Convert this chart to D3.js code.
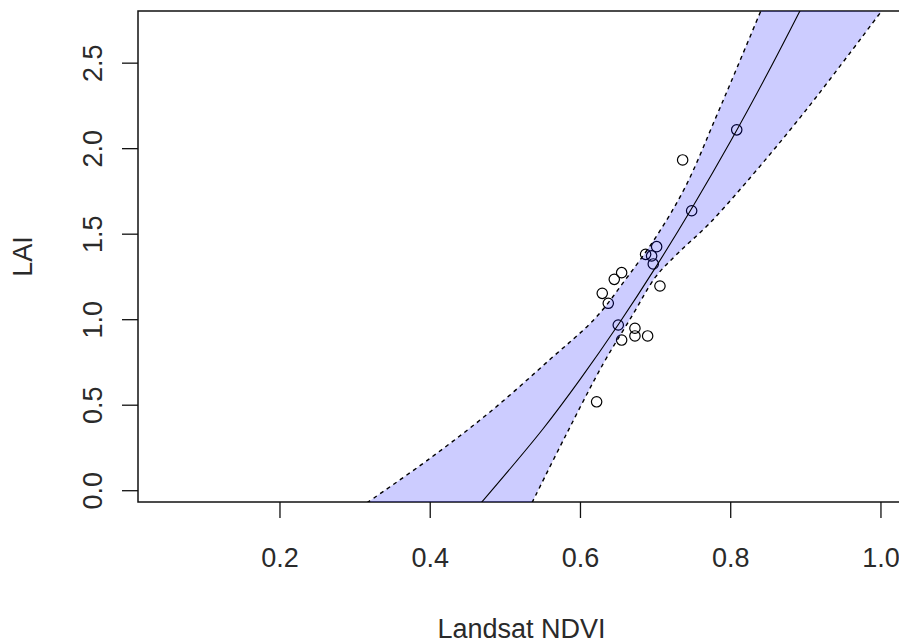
<!DOCTYPE html>
<html>
<head>
<meta charset="utf-8">
<script src="https://cdn.jsdelivr.net/npm/d3@7"></script>
<style>
  body { margin: 0; background: #fff; }
  svg { display: block; }
  text { font-family: "Liberation Sans", Arial, sans-serif; fill: #2a2a2a; }
</style>
</head>
<body>
<svg id="chart" width="899" height="643"></svg>
<script>
// ---- data ----
const ndvi = [0.808, 0.736, 0.748, 0.7014, 0.6867, 0.6947, 0.6969, 0.6548, 0.645,
              0.7058, 0.629, 0.637, 0.6503, 0.6725, 0.6894, 0.6725, 0.6548, 0.6215];
const lai  = [2.110, 1.934, 1.637, 1.427, 1.382, 1.373, 1.326, 1.275, 1.236,
              1.197, 1.154, 1.096, 0.969, 0.950, 0.905, 0.905, 0.881, 0.520];

// fitted line
const fitX = [0.465, 0.55, 0.60, 0.65, 0.70, 0.75, 0.80, 0.85, 0.895];
const fitY = [-0.085, 0.361, 0.654, 0.969, 1.306, 1.665, 2.045, 2.448, 2.83];

// upper confidence limit (left dashed line)
const upX = [0.316, 0.40, 0.48, 0.56, 0.62, 0.66, 0.70, 0.74, 0.78, 0.81, 0.841];
const upY = [-0.07, 0.19, 0.462, 0.77, 1.01, 1.235, 1.48, 1.78, 2.18, 2.49, 2.815];

// lower confidence limit (right dashed line)
const loX = [0.5355, 0.58, 0.63, 0.67, 0.70, 0.73, 0.77, 0.82, 0.90, 1.0];
const loY = [-0.07, 0.32, 0.74, 1.032, 1.25, 1.39, 1.555, 1.80, 2.224, 2.80];

const xTicks = [0.2, 0.4, 0.6, 0.8, 1.0];
const yTicks = [0.0, 0.5, 1.0, 1.5, 2.0, 2.5];
const xDomain = [0.011, 1.032];
const yDomain = [-0.066, 2.805];
const xTitle = "Landsat NDVI";
const yTitle = "LAI";

// ---- layout ----
const L = 138, R = 905, T = 11, B = 502;
const svg = d3.select("#chart");
const x = d3.scaleLinear().domain(xDomain).range([L, R]);
const y = d3.scaleLinear().domain(yDomain).range([B, T]);

svg.append("defs").append("clipPath").attr("id", "plotclip")
  .append("rect").attr("x", L).attr("y", T).attr("width", R - L).attr("height", B - T);

// points
svg.append("g").selectAll("circle")
  .data(ndvi.map((v, i) => [v, lai[i]]))
  .join("circle")
  .attr("cx", d => x(d[0])).attr("cy", d => y(d[1]))
  .attr("r", 5.2)
  .attr("fill", "none").attr("stroke", "#000").attr("stroke-width", 1.2);

// box
svg.append("rect").attr("x", L).attr("y", T).attr("width", R - L).attr("height", B - T)
  .attr("fill", "none").attr("stroke", "#111").attr("stroke-width", 1.5);

// confidence band
const upPts = upX.map((v, i) => [x(v), y(upY[i])]);
const loPts = loX.map((v, i) => [x(v), y(loY[i])]);
const lineGen = d3.line().curve(d3.curveCatmullRom.alpha(0.5));
const bandPath = lineGen(upPts) + "L" + lineGen(loPts.slice().reverse()).slice(1) + "Z";

const plot = svg.append("g").attr("clip-path", "url(#plotclip)");
plot.append("path").attr("d", bandPath).attr("fill", "rgba(0,0,255,0.2)").attr("stroke", "none");

plot.append("path").attr("d", lineGen(upPts)).attr("fill", "none")
  .attr("stroke", "#000").attr("stroke-width", 1.4).attr("stroke-dasharray", "4,4");
plot.append("path").attr("d", lineGen(loPts)).attr("fill", "none")
  .attr("stroke", "#000").attr("stroke-width", 1.4).attr("stroke-dasharray", "4,4");
plot.append("path").attr("d", lineGen(fitX.map((v, i) => [x(v), y(fitY[i])])))
  .attr("fill", "none").attr("stroke", "#000").attr("stroke-width", 1.1);

// x axis ticks
const xa = svg.append("g");
xa.selectAll("line").data(xTicks).join("line")
  .attr("x1", d => x(d)).attr("x2", d => x(d)).attr("y1", B).attr("y2", B + 16)
  .attr("stroke", "#111").attr("stroke-width", 1.3);
xa.selectAll("text").data(xTicks).join("text")
  .attr("x", d => x(d)).attr("y", 567)
  .attr("text-anchor", "middle").attr("font-size", 27)
  .text(d => d3.format(".1f")(d));

// y axis ticks
const ya = svg.append("g");
ya.selectAll("line").data(yTicks).join("line")
  .attr("x1", L).attr("x2", L - 16).attr("y1", d => y(d)).attr("y2", d => y(d))
  .attr("stroke", "#111").attr("stroke-width", 1.3);
ya.selectAll("text").data(yTicks).join("text")
  .attr("transform", d => `translate(102,${y(d)}) rotate(-90)`)
  .attr("text-anchor", "middle").attr("font-size", 27)
  .text(d => d3.format(".1f")(d));

// titles
svg.append("text").attr("x", 521.5).attr("y", 638)
  .attr("text-anchor", "middle").attr("font-size", 27).text(xTitle);
svg.append("text").attr("transform", `translate(32,${(T + B) / 2}) rotate(-90)`)
  .attr("text-anchor", "middle").attr("font-size", 27).text(yTitle);
</script>
</body>
</html>
